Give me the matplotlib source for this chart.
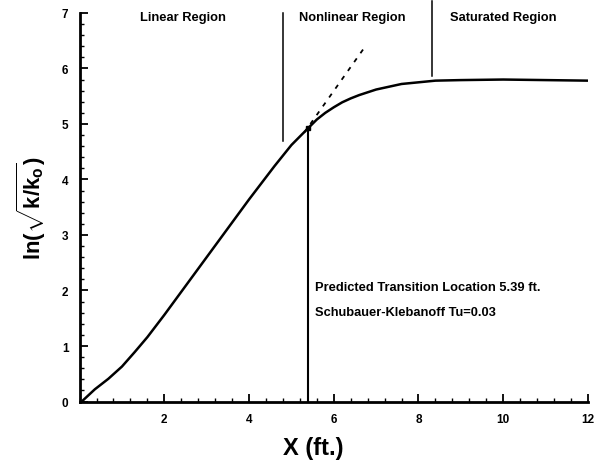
import matplotlib
matplotlib.use('Agg')
import matplotlib.pyplot as plt
from matplotlib.ticker import MultipleLocator

plt.rcParams['font.family'] = ['Liberation Sans', 'DejaVu Sans']
plt.rcParams['mathtext.fontset'] = 'custom'
plt.rcParams['mathtext.rm'] = 'Liberation Sans'
plt.rcParams['mathtext.it'] = 'Liberation Sans'
plt.rcParams['mathtext.bf'] = 'Liberation Sans:bold'

# growth curve
x_ft = [0.05, 0.36, 0.68, 1.0, 1.3, 1.6, 2.0, 2.5, 3.0, 3.5, 4.0, 4.6, 5.0, 5.39,
        5.6, 5.8, 6.0, 6.2, 6.4, 6.6, 6.8, 7.0, 7.3, 7.6, 8.0, 8.4, 9.0, 10.0,
        11.0, 12.0]
ln_k = [0.0, 0.22, 0.41, 0.63, 0.89, 1.16, 1.56, 2.08, 2.60, 3.12, 3.64, 4.24,
        4.62, 4.92, 5.08, 5.20, 5.30, 5.39, 5.46, 5.52, 5.57, 5.62, 5.67, 5.72,
        5.75, 5.78, 5.79, 5.80, 5.79, 5.78]

# linear-growth extrapolation
tangent_x = [5.30, 6.70]
tangent_y = [4.84, 6.35]

x_transition = 5.39
y_transition = 4.92

# region dividers: (x, y_bottom, y_top)
dividers = [(4.80, 4.69, 7.0), (8.33, 5.87, 7.22)]

regions = ['Linear Region', 'Nonlinear Region', 'Saturated Region']
region_x = [2.44, 6.43, 10.0]

note_lines = ['Predicted Transition Location 5.39 ft.',
              'Schubauer-Klebanoff Tu=0.03']

fig = plt.figure(figsize=(6.03, 4.64), dpi=100)
ax = fig.add_axes([0.132, 0.1325, 0.843, 0.8375])

ax.plot(x_ft, ln_k, color='black', lw=1.8, solid_joinstyle='round')
ax.plot(tangent_x, tangent_y, color='black', lw=1.3, dashes=(2.5, 3.5))
ax.plot([x_transition, x_transition], [0, y_transition], color='black', lw=1.5)
ax.plot([x_transition], [y_transition], 'ks', ms=3)

for xd, y0, y1 in dividers:
    ax.plot([xd, xd], [y0, y1], color='black', lw=1.1, clip_on=False)

for name, xr in zip(regions, region_x):
    ax.text(xr, 6.93, name, ha='center', va='center', fontsize=9.3,
            fontweight='bold')

ax.text(5.55, 2.06, note_lines[0], ha='left', va='center', fontsize=9.3,
        fontweight='bold')
ax.text(5.55, 1.62, note_lines[1], ha='left', va='center', fontsize=9.3,
        fontweight='bold')

ax.set_xlim(0, 12)
ax.set_ylim(0, 7)
ax.xaxis.set_minor_locator(MultipleLocator(0.4))
ax.yaxis.set_minor_locator(MultipleLocator(0.2))
ax.set_xticks([2, 4, 6, 8, 10, 12])
ax.set_yticks([0, 1, 2, 3, 4, 5, 6, 7])

for s in ['top', 'right']:
    ax.spines[s].set_visible(False)
for s in ['left', 'bottom']:
    ax.spines[s].set_linewidth(2)

ax.tick_params(which='major', direction='in', length=6, width=1.3,
               labelsize=8.5, pad=8)
ax.tick_params(which='minor', direction='in', length=3, width=1)
for lab in ax.get_xticklabels() + ax.get_yticklabels():
    lab.set_fontweight('bold')

ax.set_xlabel('X (ft.)', fontsize=17, fontweight='bold', labelpad=10)
ax.xaxis.set_label_coords(0.46, -0.09)
ax.set_ylabel(r'$\mathbf{ln(\sqrt{k/k_o})}$', fontsize=16, labelpad=10)

fig.savefig('out.png', dpi=100)
